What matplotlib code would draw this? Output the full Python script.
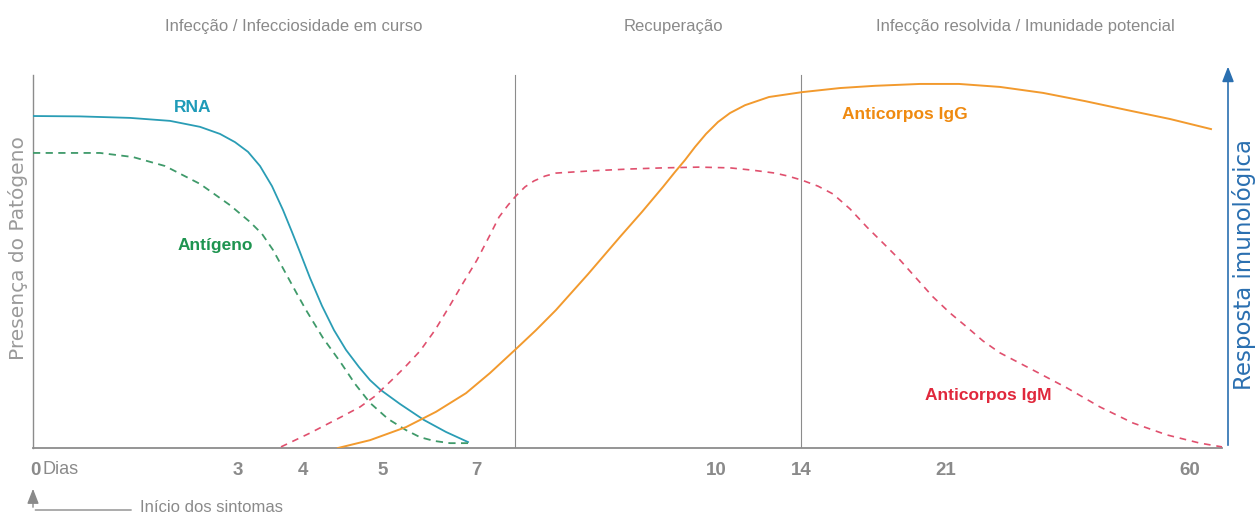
import matplotlib
matplotlib.use("Agg")
import matplotlib.pyplot as plt

# x = position along the schematic timeline (non-linear in days), y = relative level 0-100
tick_pos = [2, 205, 270, 350, 443, 683, 768, 913, 1157]
tick_labels = ["0", "3", "4", "5", "7", "10", "14", "21", "60"]
phase_lines = [482, 768]

rna_x = [0, 47, 97, 137, 167, 187, 202, 215, 227, 239, 250, 259, 267, 277, 289, 301,
         313, 326, 337, 348, 367, 391, 413, 435]
rna_y = [89.0, 88.9, 88.5, 87.7, 86.1, 84.2, 82.0, 79.4, 75.6, 70.2, 63.8, 57.9, 52.5, 45.6, 38.1, 31.6,
         26.3, 21.7, 18.2, 15.5, 11.8, 7.5, 4.3, 1.6]

ant_x = [0, 67, 100, 132, 167, 197, 217, 229, 240, 252, 263, 273, 290, 308, 322, 337,
         355, 373, 387, 401, 417, 435]
ant_y = [79.1, 79.1, 78.0, 75.6, 70.8, 65.1, 60.6, 57.4, 53.1, 47.2, 41.8, 37.0, 29.5, 22.8, 17.2, 12.1,
         7.8, 4.8, 2.9, 1.9, 1.3, 1.3]

igm_x = [248, 277, 308, 327, 341, 358, 372, 387, 402, 416, 430, 444, 456, 466, 475, 483,
         492, 501, 512, 523, 558, 597, 630, 666, 697, 719, 742, 755, 769, 785, 800, 817,
         834, 851, 867, 884, 900, 917, 934, 950, 967, 1000, 1034, 1067, 1100, 1134, 1167, 1189]
igm_y = [0.3, 4.0, 8.3, 11.0, 13.7, 18.0, 21.7, 26.0, 31.6, 37.8, 44.2, 50.4, 56.6, 61.9, 65.1, 67.6,
         70.0, 71.6, 72.9, 73.7, 74.3, 74.8, 75.1, 75.3, 75.1, 74.5, 73.7, 72.9, 71.8, 70.2, 68.1, 64.1,
         59.2, 54.7, 50.4, 45.3, 40.5, 36.2, 32.4, 28.7, 25.5, 20.9, 16.1, 11.0, 6.7, 3.5, 1.3, 0.3]

igg_x = [305, 337, 373, 403, 433, 457, 482, 503, 523, 555, 587, 609, 630, 642, 652, 662,
         673, 685, 697, 712, 736, 769, 807, 842, 887, 926, 967, 1010, 1052, 1094, 1137, 1178]
igg_y = [0.0, 2.1, 5.6, 9.7, 14.7, 20.1, 26.3, 31.6, 37.0, 46.6, 56.6, 63.3, 70.0, 74.0, 77.2, 80.7,
         84.2, 87.4, 89.8, 91.9, 94.1, 95.4, 96.5, 97.1, 97.6, 97.6, 96.8, 95.2, 93.0, 90.6, 88.2, 85.5]

phases = ["Infecção / Infecciosidade em curso", "Recuperação", "Infecção resolvida / Imunidade potencial"]

GRAY = "#8a8a8a"
NARROW = ["Liberation Sans Narrow", "Liberation Sans", "DejaVu Sans"]

W, H = 1255, 520
fig = plt.figure(figsize=(W / 100, H / 100), dpi=100)
ax = fig.add_axes([33 / W, 72 / H, 1200 / W, 384.2 / H])
ax.set_xlim(0, 1200)
ax.set_ylim(0, 103)
for s in ax.spines.values():
    s.set_visible(False)
ax.set_yticks([])

# axes frame drawn by hand
ax.plot([0, 0], [0, 100], color="#8c8c8c", lw=1.0, clip_on=False)
ax.plot([0, 1189], [0, 0], color="#8c8c8c", lw=1.3, clip_on=False)
for xp in phase_lines:
    ax.plot([xp, xp], [0, 100], color="#8c8c8c", lw=0.8)
ax.annotate("", xy=(1195, 103), xytext=(1195, 0), xycoords="data",
            arrowprops=dict(arrowstyle="-|>,head_length=0.9,head_width=0.35", color="#2a6fb0", lw=1.2),
            annotation_clip=False)

# curves
ax.plot(rna_x, rna_y, color="#2a9db5", lw=1.3)
ax.plot(ant_x, ant_y, color="#3f9a6a", lw=1.3, dashes=(4, 3))
ax.plot(igm_x, igm_y, color="#e0506e", lw=1.2, dashes=(4, 3.5))
ax.plot(igg_x, igg_y, color="#f29a2e", lw=1.4)

# curve labels
lab = dict(ha="center", va="center", fontsize=12.5, fontweight="bold", family=NARROW)
ax.text(160, 91.4, "RNA", color="#1f9bb8", **lab)
ax.text(182, 54.4, "Antígeno", color="#1e9450", **lab)
ax.text(872, 89.3, "Anticorpos IgG", color="#ef8a10", **lab)
ax.text(955, 14.2, "Anticorpos IgM", color="#e0283c", **lab)

# x ticks
ax.set_xticks(tick_pos)
ax.set_xticklabels(tick_labels, fontsize=13.5, fontweight="bold", color=GRAY, family=NARROW)
ax.tick_params(axis="x", length=0, pad=10)
fig.text(43 / W, 1 - 470 / H, "Dias", ha="left", va="center", fontsize=13, color=GRAY, family=NARROW)

# phase headers
for xc, t in zip([294, 673, 1025], phases):
    fig.text(xc / W, 1 - 27 / H, t, ha="center", va="center", fontsize=12, color=GRAY, family=NARROW)

# axis titles
fig.text(18 / W, 1 - 248 / H, "Presença do Patógeno", rotation=90, ha="center", va="center",
         fontsize=14.5, color="#9a9a9a", family=["DejaVu Sans"])
fig.text(1244 / W, 1 - 265 / H, "Resposta imunológica", rotation=90, ha="center", va="center",
         fontsize=16.5, color="#2a6fb0", family=["DejaVu Sans"])

# symptom onset marker
fig.text(140 / W, 1 - 508 / H, "Início dos sintomas", ha="left", va="center", fontsize=12, color=GRAY, family=NARROW)
ax.annotate("", xy=(33, 34), xytext=(33, 10), xycoords="figure pixels", textcoords="figure pixels",
            arrowprops=dict(arrowstyle="-|>,head_length=0.9,head_width=0.35", color=GRAY, lw=1.0),
            annotation_clip=False)
ax.annotate("", xy=(134, 10), xytext=(32.5, 10), xycoords="figure pixels", textcoords="figure pixels",
            arrowprops=dict(arrowstyle="-", color=GRAY, lw=1.0), annotation_clip=False)

fig.savefig("out.png", dpi=100)
